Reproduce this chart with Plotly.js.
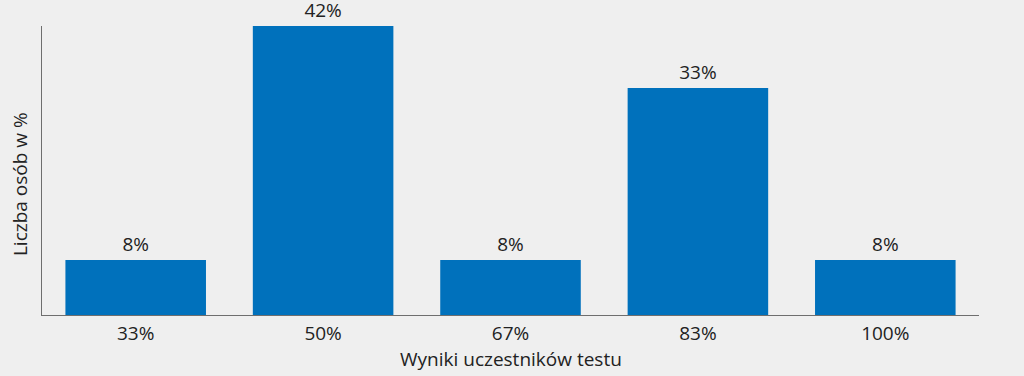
<!DOCTYPE html>
<html>
<head>
<meta charset="utf-8">
<script src="https://cdn.plot.ly/plotly-3.0.1.min.js"></script>
<style>
html,body{margin:0;padding:0;background:#efefef;}
#chart{width:1024px;height:376px;}
</style>
</head>
<body>
<div id="chart"></div>
<script>
const categories = ["33%", "50%", "67%", "83%", "100%"];
const values = [8, 42, 8, 33, 8];
const xTitle = "Wyniki uczestników testu";
const yTitle = "Liczba osób w %";

const font = "'Open Sans', 'Noto Sans', sans-serif";
const fs = 19;

Plotly.newPlot("chart", [{
  type: "bar",
  x: categories,
  y: values,
  marker: {color: "#0071bc"},
  text: values.map(v => v + "%"),
  textposition: "outside",
  textfont: {family: font, size: fs, color: "#222"},
  cliponaxis: false,
  hoverinfo: "none"
}], {
  width: 1024,
  height: 376,
  paper_bgcolor: "#efefef",
  plot_bgcolor: "#efefef",
  margin: {l: 42, r: 45, t: 26, b: 61},
  bargap: 0.25,
  showlegend: false,
  font: {family: font, size: fs, color: "#222"},
  xaxis: {
    type: "category",
    showline: true,
    linecolor: "#6e6e6e",
    linewidth: 1,
    ticks: "",
    ticklabelstandoff: 1,
    showgrid: false,
    zeroline: false,
    tickfont: {family: font, size: fs, color: "#222"}
  },
  yaxis: {
    range: [0, 42],
    showline: true,
    linecolor: "#6e6e6e",
    linewidth: 1,
    showticklabels: false,
    ticks: "",
    showgrid: false,
    zeroline: false
  },
  annotations: [{
    text: yTitle,
    xref: "paper", yref: "paper",
    x: -0.0235, y: 0.453,
    xanchor: "center", yanchor: "middle",
    textangle: -90,
    showarrow: false,
    font: {family: font, size: fs, color: "#222"}
  }, {
    text: xTitle,
    xref: "paper", yref: "paper",
    x: 0.5, y: -0.153,
    xanchor: "center", yanchor: "middle",
    showarrow: false,
    font: {family: font, size: fs, color: "#222"}
  }]
}, {staticPlot: true});
</script>
</body>
</html>
